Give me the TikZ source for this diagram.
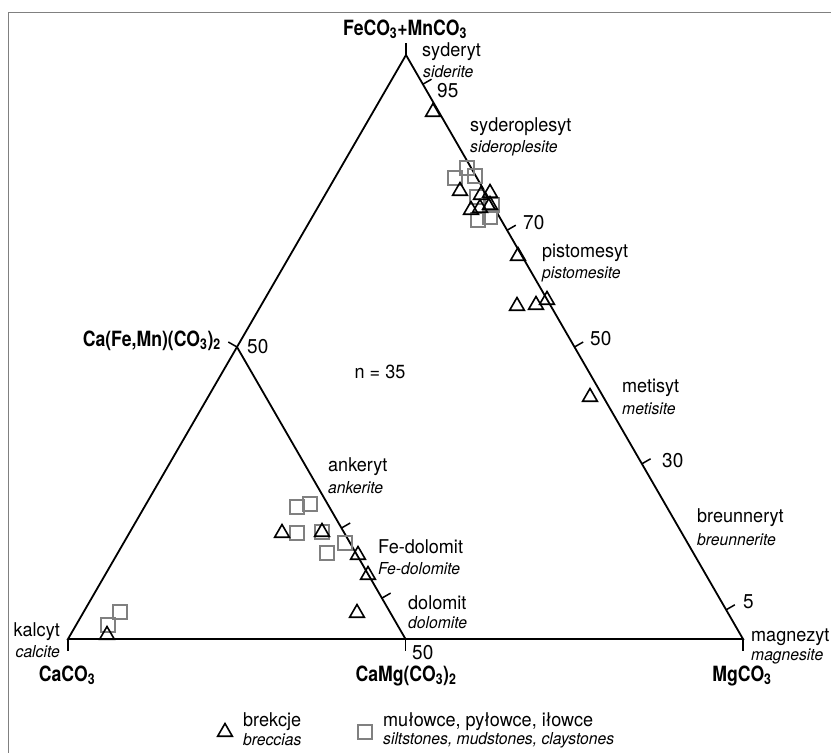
\documentclass[tikz,border=0pt]{standalone}
\usepackage{fontspec}
\setmainfont{TeX Gyre Heros}[FakeStretch=0.95]
\newfontfamily\cnfont{TeX Gyre Heros}[FakeStretch=0.84]
\usetikzlibrary{shapes.geometric, positioning, calc}
\tikzstyle{edge} = [line width=1.8pt, line join=miter]
\tikzstyle{tickmark} = [line width=1.5pt]
\tikzstyle{brk} = [regular polygon, regular polygon sides=3, draw=black, line width=1.6pt, minimum size=17pt, inner sep=0pt]
\tikzstyle{mud} = [rectangle, draw=black!50, line width=1.7pt, minimum size=13.5pt, inner sep=0pt]
\tikzstyle{pl} = [font=\fontsize{19}{21}\selectfont, inner sep=0pt, anchor=west]
\tikzstyle{en} = [font=\fontsize{16.5}{18}\selectfont\itshape, inner sep=0pt, anchor=west]
\tikzstyle{comp} = [font=\cnfont\bfseries\fontsize{21}{23}\selectfont, inner sep=0pt, anchor=base]
\tikzstyle{num} = [font=\fontsize{20}{22}\selectfont, inner sep=0pt, anchor=west]

\begin{document}
\begin{tikzpicture}[x=1pt, y=-1pt]
  \useasboundingbox (0,0) rectangle (831,753);
  \draw[gray, line width=1pt] (8,753) -- (8,12) -- (831,12);

  % end members
  \coordinate (ca) at (68,639);
  \coordinate (mg) at (743,639);
  \coordinate (fe) at (406,55);
  \coordinate (ank) at ($(ca)!0.5!(fe)$);
  \coordinate (dol) at ($(ca)!0.5!(mg)$);

  \draw[edge] (ca) -- (mg) -- (fe) -- cycle;
  \draw[edge] (ank) -- (dol);

  % ticks
  \draw[tickmark] (fe) -- ++(0,-12);
  \draw[tickmark] (ca) -- ++(0,12);
  \draw[tickmark] (mg) -- ++(0,12);
  \draw[tickmark] (dol) -- ++(0,12);
  \draw[tickmark] (ank) -- ++(-8.7,-5);
  \foreach \t in {0.05,0.3,0.5,0.7,0.95}
    \draw[tickmark] ($(fe)!\t!(mg)$) -- ++(8.7,-5);
  \foreach \t in {0.62,0.86}
    \draw[tickmark] ($(ank)!\t!(dol)$) -- ++(8.7,-5);

  \node[num] (n95) at (437,91) {95};
  \node[num] (n70) at (523,223) {70};
  \node[num] (n50r) at (590,339) {50};
  \node[num] (n30) at (662,461) {30};
  \node[num] (n5) at (743,602) {5};
  \node[num] (n50l) at (247,347) {50};
  \node[num] (n50b) at (412,653) {50};

  % compositions
  \node[comp] (feco) at (405,35) {FeCO\textsubscript{3}+MnCO\textsubscript{3}};
  \node[comp, anchor=base east] (cafe) at (221,346) {Ca(Fe,Mn)(CO\textsubscript{3})\textsubscript{2}};
  \node[comp] (caco) at (67,681) {CaCO\textsubscript{3}};
  \node[comp] (camg) at (406,681) {CaMg(CO\textsubscript{3})\textsubscript{2}};
  \node[comp] (mgco) at (742,681) {MgCO\textsubscript{3}};

  % mineral names
  \node[pl] (syd) at (422,52) {syderyt};
  \node[en] (sydE) at (423,72) {siderite};
  \node[pl] (sdp) at (470,127) {syderoplesyt};
  \node[en] (sdpE) at (470,148) {sideroplesite};
  \node[pl] (pis) at (542,253) {pistomesyt};
  \node[en] (pisE) at (542,274) {pistomesite};
  \node[pl] (met) at (622,388) {metisyt};
  \node[en] (metE) at (622,409) {metisite};
  \node[pl] (bre) at (697,518) {breunneryt};
  \node[en] (breE) at (697,540) {breunnerite};
  \node[pl] (mag) at (751,637) {magnezyt};
  \node[en] (magE) at (751,656) {magnesite};
  \node[pl, anchor=east] (kal) at (60,632) {kalcyt};
  \node[en, anchor=east] (kalE) at (60,652) {calcite};
  \node[pl] (ank1) at (328,467) {ankeryt};
  \node[en] (ank1E) at (328,488) {ankerite};
  \node[pl] (fed) at (378,547) {Fe-dolomit};
  \node[en] (fedE) at (378,569) {Fe-dolomite};
  \node[pl] (dlm) at (408,603) {dolomit};
  \node[en] (dlmE) at (408,623) {dolomite};
  \node[pl, anchor=center] (cnt) at (380,372) {n = 35};

  % samples
  \foreach \px/\py [count=\k] in {467/168, 455/178, 475/176, 477/197, 492/205, 478/220, 490/217,
      297/507, 310/504, 297/533, 322/532, 327/553, 345/543, 120/612, 108/625}
    \node[mud] (mud\k) at (\px,\py) {};
  \foreach \px/\py [count=\k] in {433/112, 460/191, 481/195, 490/193, 471/210, 480/208, 490/205,
      518/256, 517/306, 536/305, 547/300, 590/397,
      282/533, 322/532, 358/555, 368/575, 357/613, 107/635}
    \node[brk] (brk\k) at (\px,\py) {};

  % legend
  \node[brk] (lgb) at (225,732) {};
  \node[pl] (lgbt) at (243,722) {brekcje};
  \node[en] (lgbe) at (243,740) {breccias};
  \node[mud] (lgm) at (365,732) {};
  \node[pl] (lgmt) at (383,722) {mułowce, pyłowce, iłowce};
  \node[en] (lgme) at (383,740) {siltstones, mudstones, claystones};
\end{tikzpicture}
\end{document}
